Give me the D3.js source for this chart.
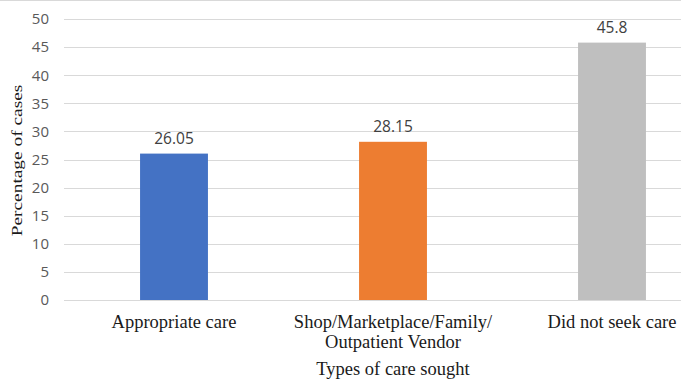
<!DOCTYPE html>
<html>
<head>
<meta charset="utf-8">
<script src="https://cdn.jsdelivr.net/npm/d3@7"></script>
<style>
  body { margin: 0; background: #fff; }
  svg { display: block; overflow: hidden; }
</style>
</head>
<body>
<div id="chart"></div>
<script>
// Données du graphique
const categories = ['Appropriate care', 'Shop/Marketplace/Family/\nOutpatient Vendor', 'Did not seek care'];
const values = [26.05, 28.15, 45.8];
const barColors = ['#4472c4', '#ed7d31', '#bfbfbf'];
const yTicks = [0, 5, 10, 15, 20, 25, 30, 35, 40, 45, 50];

const width = 681;
const height = 386;
const sansFont = '"Open Sans", "Liberation Sans", sans-serif';
const serifFont = '"Liberation Serif", "Times New Roman", serif';

const svg = d3.select('#chart')
    .append('svg')
    .attr('width', width)
    .attr('height', height);

// bordure du haut
svg.append('line')
    .attr('x1', 0).attr('x2', width)
    .attr('y1', 0.5).attr('y2', 0.5)
    .attr('stroke', '#d9d9d9');

// Échelles
const xScale = d3.scaleBand()
    .domain(categories)
    .range([64.5, 721.5])
    .paddingInner(0.69)
    .paddingOuter(0.345);

const yScale = d3.scaleLinear()
    .domain([0, 50])
    .range([300, 19]);

// Grille
svg.append('g')
    .selectAll('line')
    .data(yTicks)
    .join('line')
    .attr('x1', 64)
    .attr('x2', width)
    .attr('y1', d => Math.round(yScale(d)) + 0.5)
    .attr('y2', d => Math.round(yScale(d)) + 0.5)
    .attr('stroke', '#d9d9d9')
    .attr('stroke-width', 1);

// Axe Y
const yAxis = d3.axisLeft(yScale).tickValues(yTicks).tickSize(0).tickPadding(0);
svg.append('g')
    .attr('transform', 'translate(49,0)')
    .call(yAxis)
    .call(g => g.select('.domain').remove())
    .selectAll('text')
    .attr('font-family', sansFont)
    .attr('font-size', 15)
    .attr('fill', '#595959');

// Barres
svg.selectAll('rect.bar')
    .data(values)
    .join('rect')
    .attr('class', 'bar')
    .attr('x', (d, i) => xScale(categories[i]))
    .attr('width', xScale.bandwidth())
    .attr('y', d => yScale(d))
    .attr('height', d => yScale(0) - yScale(d))
    .attr('fill', (d, i) => barColors[i]);

// Étiquettes de valeurs
svg.selectAll('text.value')
    .data(values)
    .join('text')
    .attr('class', 'value')
    .attr('x', (d, i) => xScale(categories[i]) + xScale.bandwidth() / 2)
    .attr('y', d => yScale(d) - 10)
    .attr('text-anchor', 'middle')
    .attr('font-family', sansFont)
    .attr('font-size', 15.5)
    .attr('fill', '#404040')
    .text(d => d);

// Libellés des catégories
const catLabels = svg.selectAll('text.cat')
    .data(categories)
    .join('text')
    .attr('class', 'cat')
    .attr('text-anchor', 'middle')
    .attr('font-family', serifFont)
    .attr('font-size', 18.5)
    .attr('fill', '#1a1a1a')
    .attr('transform', d => `translate(${xScale(d) + xScale.bandwidth() / 2},328)`);

catLabels.selectAll('tspan')
    .data(d => d.split('\n'))
    .join('tspan')
    .attr('x', 0)
    .attr('dy', (d, i) => i === 0 ? 0 : 20)
    .text(d => d);

// Titres des axes
svg.append('text')
    .attr('x', xScale(categories[1]) + xScale.bandwidth() / 2)
    .attr('y', 375)
    .attr('text-anchor', 'middle')
    .attr('font-family', serifFont)
    .attr('font-size', 18.5)
    .attr('fill', '#1a1a1a')
    .text('Types of care sought');

svg.append('text')
    .attr('transform', `translate(22,160.5) rotate(-90) scale(1.25,1)`)
    .attr('text-anchor', 'middle')
    .attr('font-family', serifFont)
    .attr('font-size', 15.5)
    .attr('fill', '#1a1a1a')
    .text('Percentage of cases');
</script>
</body>
</html>
